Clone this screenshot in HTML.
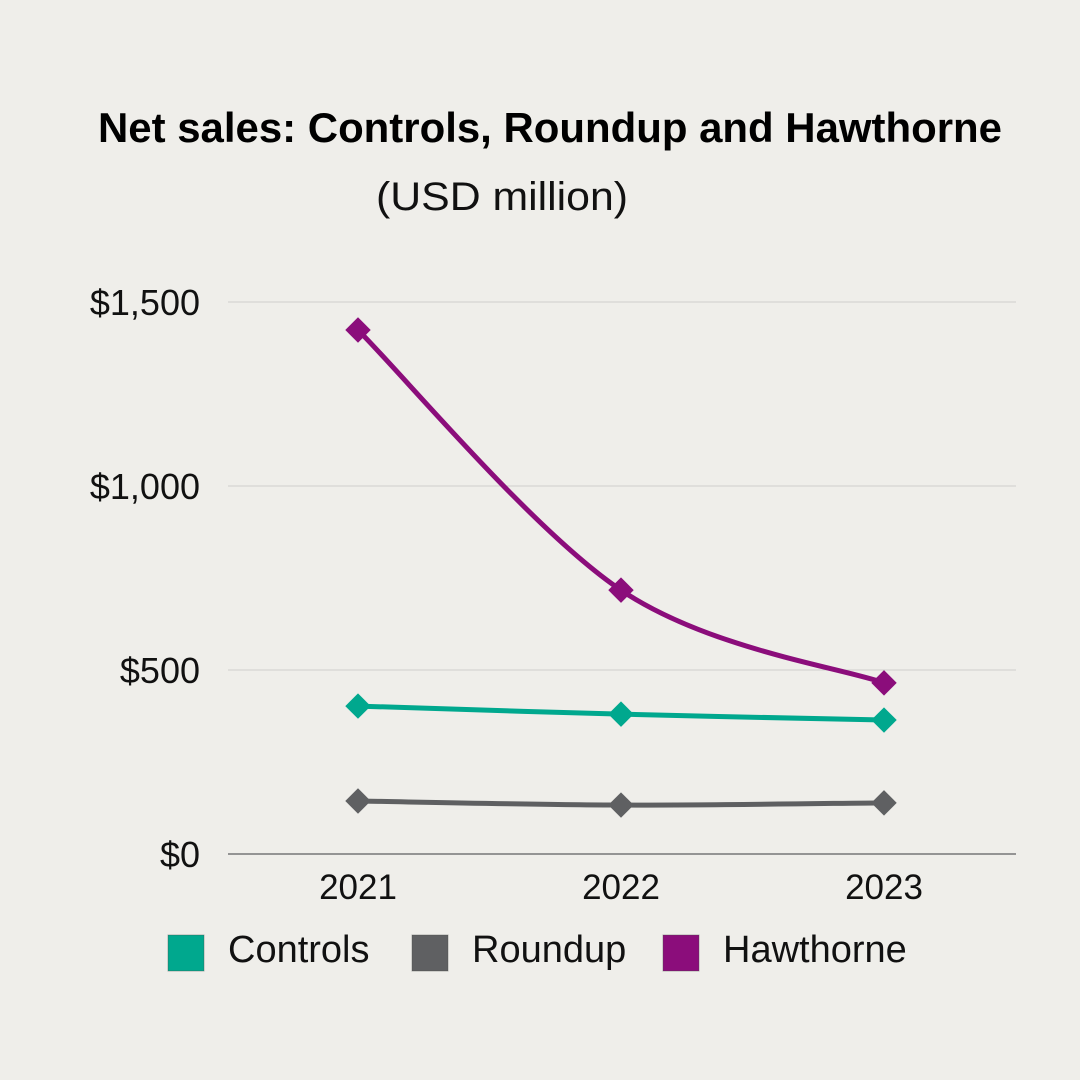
<!DOCTYPE html>
<html><head><meta charset="utf-8"><style>
html,body{margin:0;padding:0;background:#efeeea;}
svg{display:block;font-family:"Liberation Sans",sans-serif;}
</style></head><body>
<svg id="chart" width="1080" height="1080" viewBox="0 0 1080 1080">
<rect width="1080" height="1080" fill="#efeeea"/>
<text x="98" y="142" font-size="42" font-weight="bold" fill="#000" textLength="904" lengthAdjust="spacingAndGlyphs">Net sales: Controls,  Roundup and Hawthorne</text>
<text x="376" y="210" font-size="40" fill="#111" textLength="252" lengthAdjust="spacingAndGlyphs">(USD million)</text>
<g id="grid"></g><g id="series"></g><g id="legend"></g>
</svg>
<script>
const categories=["2021","2022","2023"];
const controls=[402,380,364];
const roundup=[144,133,139];
const hawthorne=[1424,717,465];
const yTicks=[0,500,1000,1500];
const yTickLabels=["$0","$500","$1,000","$1,500"];
const seriesNames=["Controls","Roundup","Hawthorne"];
const colors=["#00a88e","#5f6062","#8b0d7b"];
const NS="http://www.w3.org/2000/svg";
const x0=228,x1=1016,y0=854,yTop=302;
function xs(i){return 358+i*263;}
function ys(v){return y0-(v/1500)*(y0-yTop);}
function mk(t,a,p){const e=document.createElementNS(NS,t);for(const k in a)e.setAttribute(k,a[k]);p.appendChild(e);return e;}
const grid=document.getElementById('grid');
yTicks.forEach((v,i)=>{
 const l=mk('line',{x1:x0,x2:x1,y1:ys(v),y2:ys(v),stroke:v===0?'#777':'#cfcfcc','stroke-width':v===0?1.5:1},grid);
 
 
 const t=mk('text',{x:200,y:ys(v)+13,'text-anchor':'end','font-size':36,fill:'#111'},grid);
 t.textContent=yTickLabels[i];
 
 
});
categories.forEach((c,i)=>{
 const t=mk('text',{x:xs(i),y:899,'text-anchor':'middle','font-size':35,fill:'#111'},grid);
 t.textContent=c;
 
 
});
const ser=document.getElementById('series');
function smoothPath(pts){
 let d='M'+pts[0][0]+','+pts[0][1];
 for(let i=0;i<pts.length-1;i++){
  const p0=pts[i-1]||pts[i],p1=pts[i],p2=pts[i+1],p3=pts[i+2]||p2;
  const c1=[p1[0]+(p2[0]-p0[0])/6,p1[1]+(p2[1]-p0[1])/6];
  const c2=[p2[0]-(p3[0]-p1[0])/6,p2[1]-(p3[1]-p1[1])/6];
  d+=' C'+c1+' '+c2+' '+p2;
 }
 return d;
}
[controls,roundup,hawthorne].forEach((vals,s)=>{
 const pts=vals.map((v,i)=>[xs(i),ys(v)]);
 const p=mk('path',{d:smoothPath(pts),fill:'none',stroke:colors[s],'stroke-width':5},ser);
 
 
 pts.forEach(pt=>{
  const m=mk('rect',{x:pt[0]-9,y:pt[1]-9,width:18,height:18,fill:colors[s],transform:`rotate(45 ${pt[0]} ${pt[1]})`},ser);
  
  
 });
});
const leg=document.getElementById('legend');
const lx=[168,412,663];
seriesNames.forEach((n,i)=>{
 const r=mk('rect',{x:lx[i],y:935,width:36,height:36,fill:colors[i],stroke:'#4a4a4a','stroke-opacity':0.4},leg);
 
 
 const t=mk('text',{x:lx[i]+60,y:962,'font-size':38,fill:'#111'},leg);
 t.textContent=n;
 
 
});
</script>
</body></html>
